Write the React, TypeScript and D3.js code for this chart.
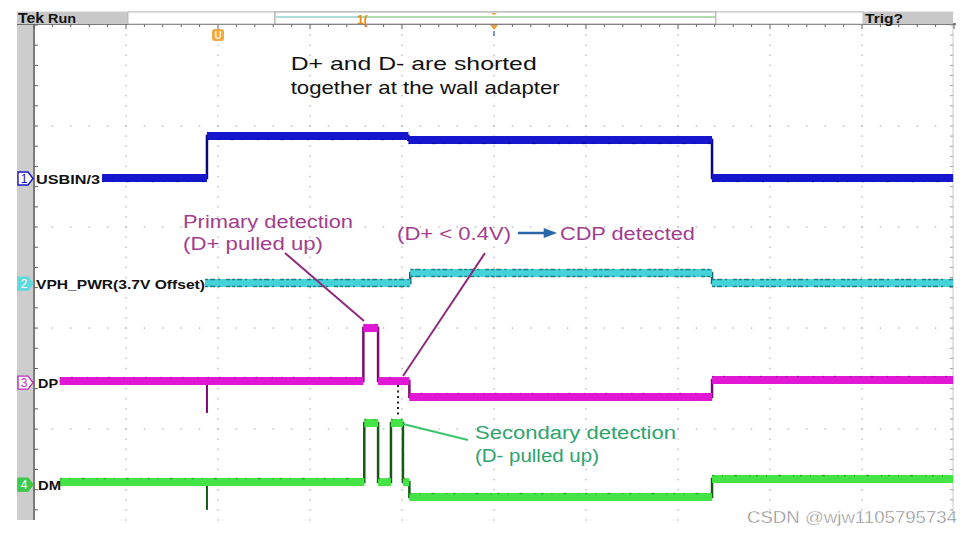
import * as d3 from "d3";

// time in divisions (10 across), level in divisions from the top graticule line
const usbinEdges = [0.74, 1.88, 4.07, 7.37, 9.99];
const usbinLevels = [1.515, 1.099, 1.139, 1.515];

const vphEdges = [1.86, 4.09, 7.37, 9.99];
const vphLevels = [2.554, 2.455, 2.554];

const dpEdges = [0.28, 3.58, 3.74, 4.08, 7.37, 9.99];
const dpLevels = [3.525, 3.0, 3.525, 3.683, 3.515];

const dmEdges = [0.28, 3.59, 3.74, 3.88, 4.01, 4.08, 7.37, 9.99];
const dmLevels = [4.525, 3.94, 4.525, 3.94, 4.525, 4.673, 4.495];

const spikeTime = 1.88;
const dpSpikeLevel = 3.84;
const dmSpikeLevel = 4.8;

const channelNames = ["USBIN/3", "VPH_PWR(3.7V Offset)", "DP", "DM"];
const channelMarkerLevels = [1.52, 2.56, 3.54, 4.55];

const W = 973;
const H = 536;

const x = d3.scaleLinear().domain([0, 10]).range([34, 954]);
const y = d3.scaleLinear().domain([0, 4.9]).range([25, 520]);

const channels = [
  { edges: usbinEdges, levels: usbinLevels, color: "#1616cc", dark: "#08087a", labelW: 64, labelX: 36, spike: null, edgeTop: false, edgeBot: true, op: 0.5 },
  { edges: vphEdges, levels: vphLevels, color: "#45d2d8", dark: "#14696c", labelW: 169, labelX: 36, spike: null, edgeTop: true, edgeBot: true, op: 0.8 },
  { edges: dpEdges, levels: dpLevels, color: "#e018d6", dark: "#7a0a72", labelW: 20, labelX: 38, spike: dpSpikeLevel, edgeTop: true, edgeBot: false, op: 0.45 },
  { edges: dmEdges, levels: dmLevels, color: "#44e446", dark: "#125a14", labelW: 23, labelX: 38, spike: dmSpikeLevel, edgeTop: true, edgeBot: false, op: 0.45 },
];

const markerStyle = [
  { fill: "#ffffff", stroke: "#1717c9", text: "#1717c9" },
  { fill: "#5fd8dc", stroke: "#5fd8dc", text: "#ffffff" },
  { fill: "#ffffff", stroke: "#c030b8", text: "#c030b8" },
  { fill: "#3cc84a", stroke: "#3cc84a", text: "#ffffff" },
];

const stepLine = d3
  .line<[number, number]>()
  .x((d) => x(d[0]))
  .y((d) => y(d[1]))
  .curve(d3.curveStepAfter);

function Graticule() {
  const vLines = d3.range(1, 10);
  const hLines = d3.range(1, 5);
  const dots: JSX.Element[] = [];
  vLines.forEach((i) => {
    d3.range(0.1, 4.9, 0.1).forEach((j, k) => {
      dots.push(<rect key={`v${i}-${k}`} x={x(i) - 0.7} y={y(j) - 0.7} width={1.4} height={1.4} fill="#b8b8b8" />);
    });
  });
  hLines.forEach((j) => {
    d3.range(0.2, 10, 0.2).forEach((i, k) => {
      dots.push(<rect key={`h${j}-${k}`} x={x(i) - 0.7} y={y(j) - 0.7} width={1.4} height={1.4} fill="#b8b8b8" />);
    });
  });
  const topTicks = d3.range(0, 10.01, 0.2);
  const leftTicks = d3.range(0, 4.9, 0.2);
  const rightTicks = d3.range(0, 4.9, 0.1);
  return (
    <g>
      {dots}
      <rect x={17} y={24} width={16} height={496} fill="#cdcdcd" />
      <line x1={34} x2={34} y1={24} y2={520} stroke="#505050" strokeWidth={1.5} />
      <line x1={953} x2={953} y1={24} y2={520} stroke="#c8c8c8" strokeWidth={1} />
      <line x1={17} x2={956} y1={24} y2={24} stroke="#505050" strokeWidth={1.5} />
      {topTicks.map((t, i) => (
        <line key={`tt${i}`} x1={x(t)} x2={x(t)} y1={24} y2={Math.abs(t - Math.round(t)) < 0.01 ? 29 : 27} stroke="#606060" />
      ))}
      {leftTicks.map((t, i) => (
        <line key={`lt${i}`} x1={34} x2={38} y1={y(t)} y2={y(t)} stroke="#606060" />
      ))}
      {rightTicks.map((t, i) => (
        <line key={`rt${i}`} x1={950} x2={953} y1={y(t)} y2={y(t)} stroke="#a0a0a0" />
      ))}
    </g>
  );
}

function Header() {
  return (
    <g fontFamily="Liberation Sans, Arial, sans-serif" fontWeight="bold">
      <line x1={17} x2={954} y1={12} y2={12} stroke="#d0d0d0" />
      <rect x={17} y={12} width={111} height={12} fill="#c8c8c8" />
      <text x={18} y={23} fontSize={15} fill="#111" textLength={26} lengthAdjust="spacingAndGlyphs">Tek</text>
      <text x={48} y={23} fontSize={13} fill="#111" textLength={28} lengthAdjust="spacingAndGlyphs">Run</text>
      <rect x={128} y={12} width={147} height={12} fill="#fff" stroke="#b0b0b0" strokeWidth={0.8} />
      <rect x={275} y={12} width={441} height={12} fill="#fff" stroke="#909090" strokeWidth={0.8} />
      <line x1={276} x2={360} y1={17} y2={17} stroke="#8fd2cc" strokeWidth={1.5} />
      <line x1={360} x2={715} y1={17} y2={17} stroke="#92cf92" strokeWidth={1.5} />
      <text x={357} y={24} fontSize={12} fill="#e08a20">1(</text>
      <path d={`M${x(5) - 3},13 L${x(5) + 3},13 L${x(5)},15 Z`} fill="#e8a040" />
      <rect x={716} y={12} width={147} height={12} fill="#fff" stroke="#b0b0b0" strokeWidth={0.8} />
      <rect x={863} y={12} width={90} height={12} fill="#c8c8c8" />
      <text x={865} y={23} fontSize={13} fill="#111" textLength={38} lengthAdjust="spacingAndGlyphs">Trig?</text>
      <path d={`M${x(5) - 4},25 L${x(5) + 4},25 L${x(5)},30 Z`} fill="#e8a040" />
      <line x1={x(5)} x2={x(5)} y1={31} y2={36} stroke="#6070c0" strokeWidth={1.5} />
      <rect x={x(2) - 6} y={29} width={12} height={12} rx={3} fill="#f2a640" />
      <text x={x(2)} y={39} fontSize={10} textAnchor="middle" fill="#fff2dc">U</text>
    </g>
  );
}

function Trace({ ch, idx }) {
  const pts: [number, number][] = ch.edges.map((t, i) => [t, ch.levels[Math.min(i, ch.levels.length - 1)]]);
  const segs = ch.levels.map((lv, i) => ({ x1: x(ch.edges[i]), x2: x(ch.edges[i + 1]), y: y(lv) }));
  const dashes = ["2 9 1 12 3 8 1 14", "3 2 5 3 2 6 4 2", "1 10 2 14 1 9", "2 8 1 11 3 12 1 6"][idx];
  return (
    <g>
      <path d={stepLine(pts)} fill="none" stroke={ch.dark} strokeWidth={2.5} />
      {ch.spike !== null && (
        <line x1={x(spikeTime)} x2={x(spikeTime)} y1={y(ch.levels[0])} y2={y(ch.spike)} stroke={ch.dark} strokeWidth={2} />
      )}
      {segs.map((s, i) => (
        <g key={i}>
          <line x1={s.x1} x2={s.x2} y1={s.y} y2={s.y} stroke={ch.color} strokeWidth={8} />
          {ch.edgeTop && (
            <line x1={s.x1} x2={s.x2} y1={s.y - 3.5} y2={s.y - 3.5} stroke={ch.dark} strokeWidth={1.5} strokeDasharray={dashes} opacity={ch.op} />
          )}
          {ch.edgeBot && (
            <line x1={s.x1} x2={s.x2} y1={s.y + 3.5} y2={s.y + 3.5} stroke={ch.dark} strokeWidth={1.5} strokeDasharray={dashes} opacity={ch.op} />
          )}
        </g>
      ))}
    </g>
  );
}

function Markers() {
  return (
    <g fontFamily="Liberation Sans, Arial, sans-serif">
      {channelMarkerLevels.map((lv, i) => {
        const cy = y(lv);
        const m = markerStyle[i];
        return (
          <g key={i}>
            <path d={`M18,${cy - 6.5} h10 l5,6.5 l-5,6.5 h-10 Z`} fill={m.fill} stroke={m.stroke} strokeWidth={1.4} />
            <text x={24} y={cy + 4.5} fontSize={12} textAnchor="middle" fill={m.text}>{i + 1}</text>
            <text
              x={channels[i].labelX}
              y={cy + 5}
              fontSize={13}
              fontWeight="bold"
              fill="#111"
              textLength={channels[i].labelW}
              lengthAdjust="spacingAndGlyphs"
            >
              {channelNames[i]}
            </text>
          </g>
        );
      })}
    </g>
  );
}

function Annotations() {
  const purple = "#a23d8e";
  const green = "#2ea36c";
  return (
    <g fontFamily="Liberation Sans, Arial, sans-serif" fontSize={18}>
      <text x={x(2.79)} y={y(0.446)} fill="#111" fontSize={19} textLength={246} lengthAdjust="spacingAndGlyphs">D+ and D- are shorted</text>
      <text x={x(2.79)} y={y(0.683)} fill="#111" fontSize={19} textLength={269} lengthAdjust="spacingAndGlyphs">together at the wall adapter</text>

      <text x={x(1.62)} y={y(2.01)} fill={purple} textLength={170} lengthAdjust="spacingAndGlyphs">Primary detection</text>
      <text x={x(1.62)} y={y(2.228)} fill={purple} textLength={140} lengthAdjust="spacingAndGlyphs">(D+ pulled up)</text>
      <line x1={x(2.728)} y1={y(2.257)} x2={x(3.587)} y2={y(2.931)} stroke="#8e2a7c" strokeWidth={2} />

      <text x={x(3.946)} y={y(2.129)} fill={purple} textLength={114} lengthAdjust="spacingAndGlyphs">(D+ &lt; 0.4V)</text>
      <line x1={x(5.26)} y1={y(2.06)} x2={x(5.6)} y2={y(2.06)} stroke="#2c66aa" strokeWidth={2.5} />
      <path d={`M${x(5.54)},${y(2.06) - 5} L${x(5.685)},${y(2.06)} L${x(5.54)},${y(2.06) + 5} Z`} fill="#2c66aa" />
      <text x={x(5.717)} y={y(2.129)} fill={purple} textLength={135} lengthAdjust="spacingAndGlyphs">CDP detected</text>
      <line x1={x(4.902)} y1={y(2.257)} x2={x(4.011)} y2={y(3.475)} stroke="#8e2a7c" strokeWidth={2} />

      <line x1={x(3.957)} y1={y(3.564)} x2={x(3.957)} y2={y(3.891)} stroke="#222" strokeWidth={2} strokeDasharray="2 3.5" />

      <text x={x(4.793)} y={y(4.099)} fill={green} textLength={201} lengthAdjust="spacingAndGlyphs">Secondary detection</text>
      <text x={x(4.793)} y={y(4.327)} fill={green} textLength={124} lengthAdjust="spacingAndGlyphs">(D- pulled up)</text>
      <line x1={x(4.011)} y1={y(3.95)} x2={x(4.717)} y2={y(4.109)} stroke="#3cc46c" strokeWidth={2} />
    </g>
  );
}

export default function App() {
  return (
    <svg width={W} height={H} style={{ position: "absolute", left: 0, top: 0, background: "#fff" }}>
      <rect width={W} height={H} fill="#fff" />
      <Graticule />
      <Header />
      {channels.map((ch, i) => (
        <Trace key={i} ch={ch} idx={i} />
      ))}
      <Markers />
      <Annotations />
      <text
        x={747}
        y={523}
        fontFamily="Liberation Sans, Arial, sans-serif"
        fontSize={17}
        fill="#8a8a8a"
        stroke="#fff"
        strokeWidth={0.4}
        textLength={210}
        lengthAdjust="spacingAndGlyphs"
      >
        CSDN @wjw1105795734
      </text>
    </svg>
  );
}
